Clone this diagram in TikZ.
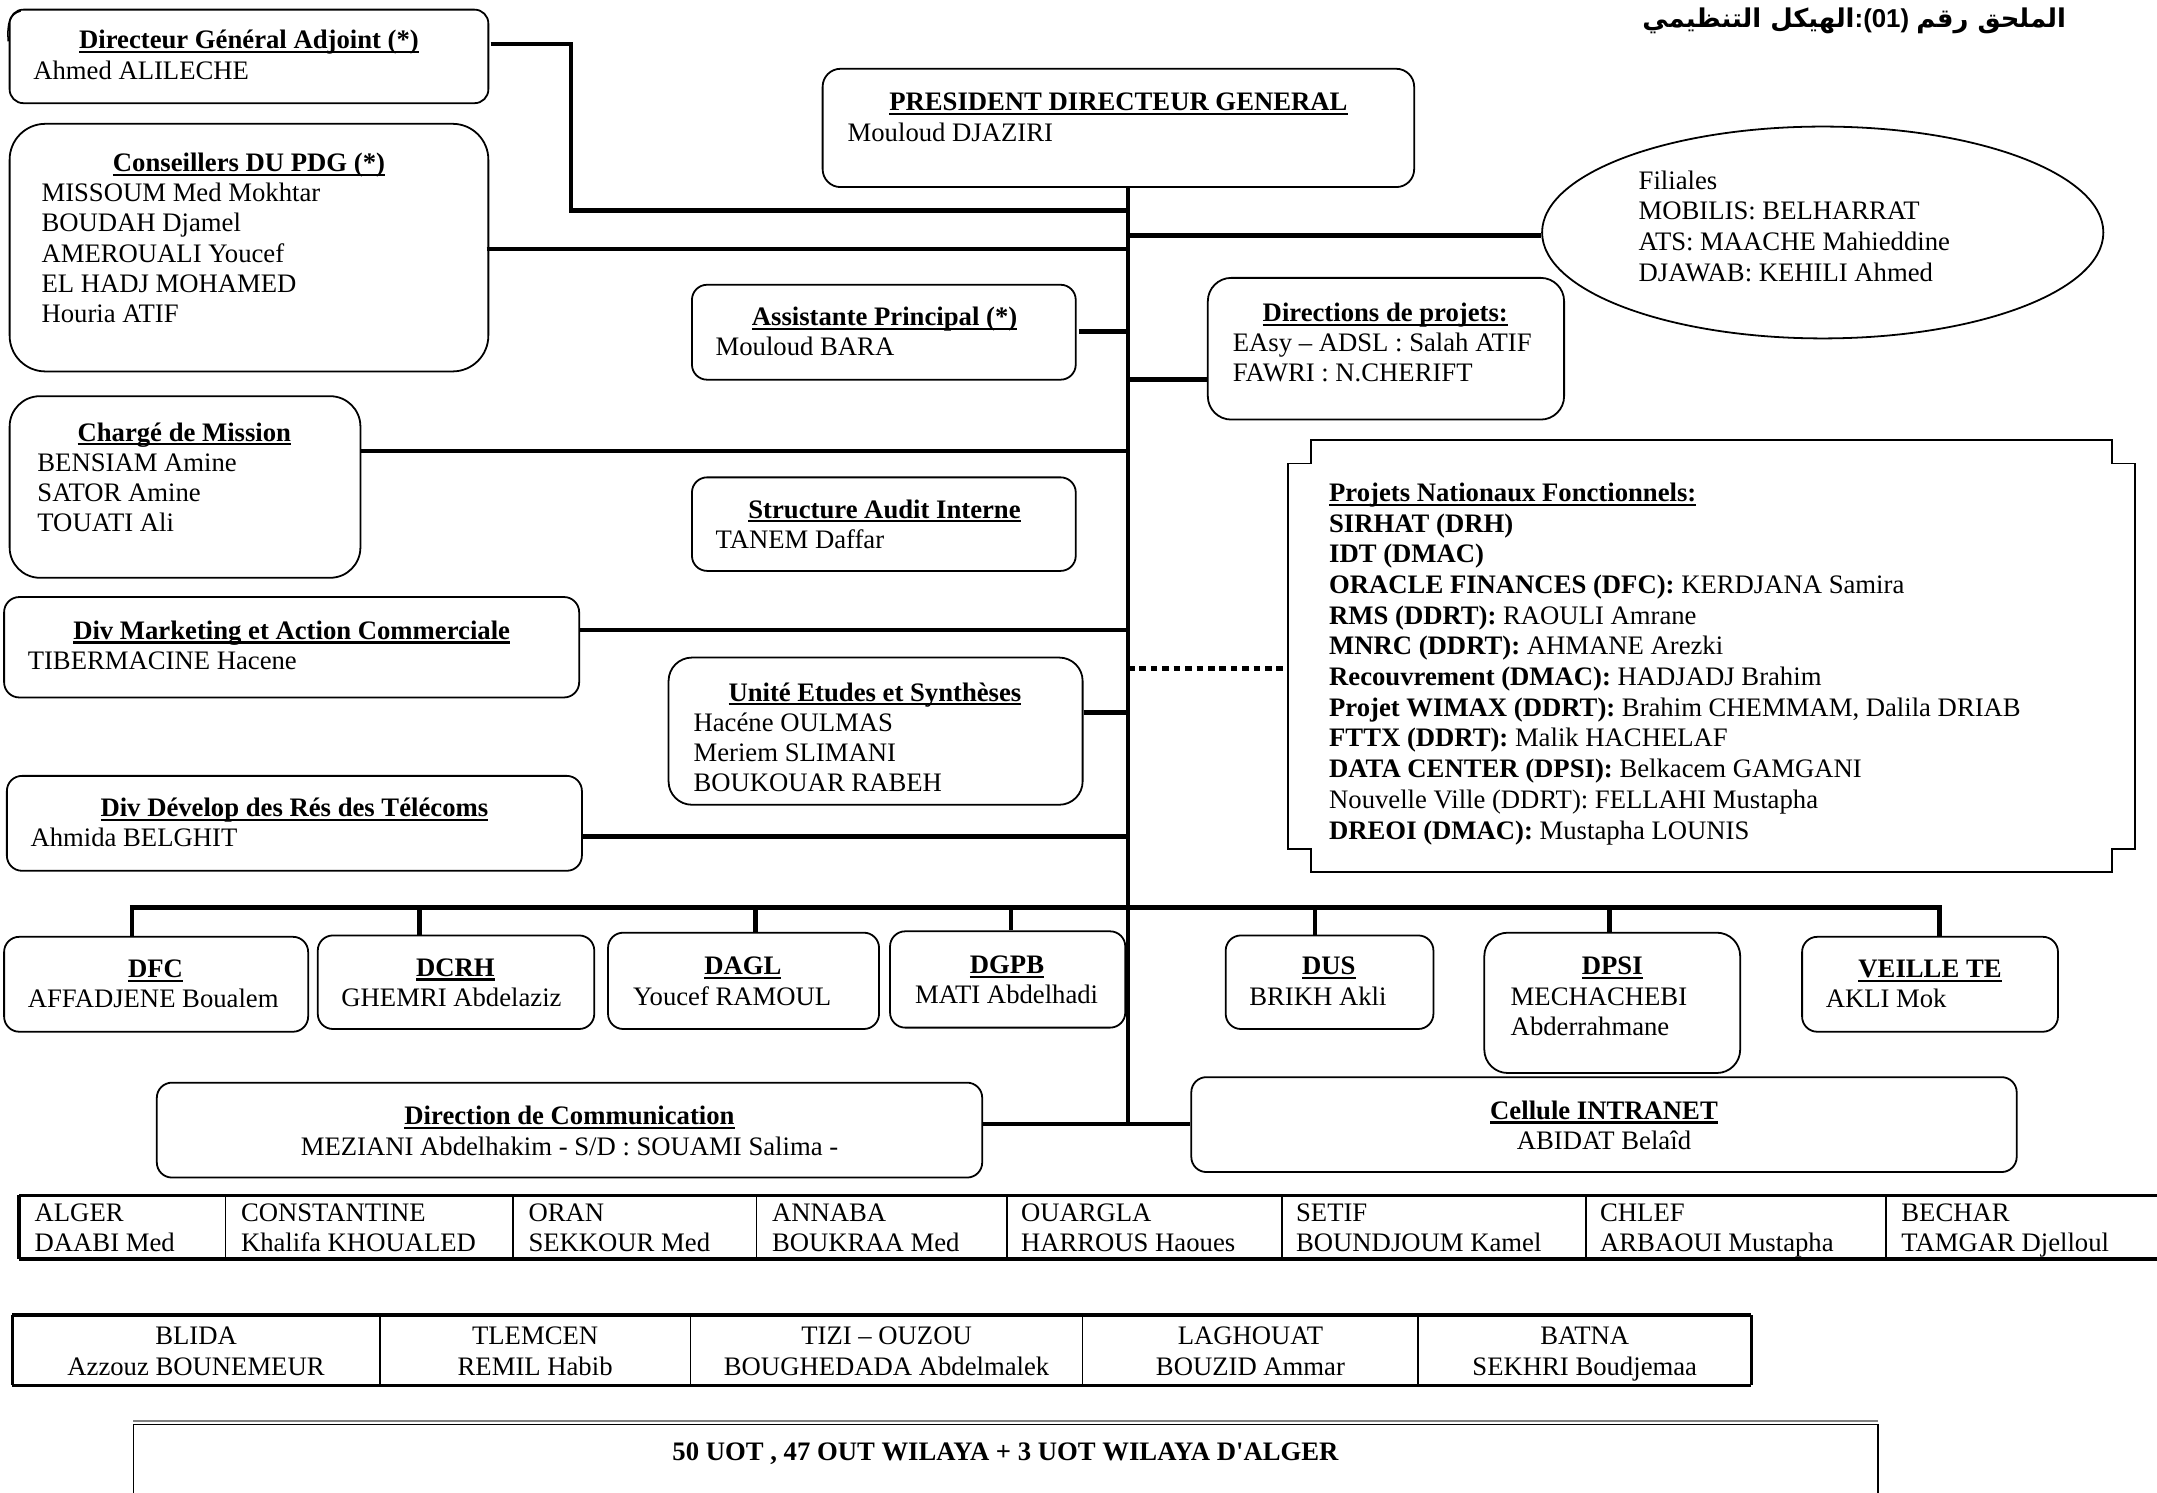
\documentclass[tikz,border=0pt]{standalone}
\usepackage{fontspec}
\setmainfont{Liberation Serif}
\newfontfamily\plainserif{Liberation Serif}
\newfontfamily\arabicfont[Script=Arabic]{DejaVu Sans}
\newfontfamily\titlelatin{Liberation Sans}
\TeXXeTstate=1
\usetikzlibrary{fit,shapes.geometric}

% bold heading with a rule under it
\newcommand\hd[1]{\setbox0\hbox{\bfseries #1}\rlap{\rule[-3.2pt]{\wd0}{1.6pt}}\box0}
\newcommand\bodyfont{\fontsize{19.4}{22}\selectfont}
\newcommand\rows[1]{\begin{tabular}[t]{@{}l@{}}#1\end{tabular}}
\newcommand\crows[1]{\begin{tabular}[t]{@{}c@{}}#1\end{tabular}}
\newcommand\straightquote{{\plainserif\symbol{39}}}

\tikzset{
  orgbox/.style={draw, line width=1.3pt, inner sep=0pt, rounded corners=#1},
  orgbox/.default=11pt,
  txt/.style={font=\bodyfont, inner sep=0pt, anchor=base west, yshift=-1.6pt},
  ctxt/.style={font=\bodyfont, inner sep=0pt, anchor=base, yshift=-1.6pt},
  head/.style={font=\bodyfont, inner sep=0pt, anchor=base, yshift=-1.6pt},
  conn/.style={line width=3.3pt},
  dotconn/.style={line width=3.3pt, dash pattern=on 4.8pt off 3.5pt},
  thinrule/.style={line width=1.2pt},
  thickrule/.style={line width=2.6pt},
}

\begin{document}
\begin{tikzpicture}[x=1pt,y=-1pt]
\useasboundingbox (0,0) rectangle (1568,1085);

% title
\node[anchor=base east, inner sep=0pt, font=\bfseries\fontsize{18.8}{22}\selectfont] (title) at (1502,20)
  {{\arabicfont\beginR الهيكل التنظيمي\endR}{\titlelatin :(01) }{\arabicfont\beginR الملحق رقم\endR}};

% ---- boxes of the upper part ----
\node[orgbox=10pt, fit={(7,7)(355,75)}] (dga) {};
\draw[line width=1.1pt] (6,30) .. controls (5,17) and (7,10) .. (15,8);
\node[head] (dga-h) at (181,34) {\hd{Directeur Général Adjoint (*)}};
\node[txt] (dga-n) at (24,56) {Ahmed ALILECHE};

\node[orgbox=13pt, fit={(598,50)(1028,136)}] (pdg) {};
\node[head] (pdg-h) at (813,79) {\hd{PRESIDENT DIRECTEUR GENERAL}};
\node[txt] (pdg-n) at (616,101) {Mouloud DJAZIRI};

\node[orgbox=26pt, fit={(7,90)(355,270)}] (cons) {};
\node[head] (cons-h) at (181,123) {\hd{Conseillers DU PDG (*)}};
\node[txt] (cons-n) at (30,145) {\rows{MISSOUM Med Mokhtar\\BOUDAH Djamel\\AMEROUALI Youcef\\EL HADJ MOHAMED\\Houria ATIF}};

\node[draw, line width=1.3pt, ellipse, inner sep=0pt, minimum width=408pt, minimum height=154pt] (fil) at (1325,169) {};
\node[txt] (fil-n) at (1191,136) {\fontsize{19.4}{22.3}\selectfont\rows{Filiales\\MOBILIS: BELHARRAT\\ATS: MAACHE Mahieddine\\DJAWAB: KEHILI Ahmed}};

\node[orgbox, fit={(503,207)(782,276)}] (assist) {};
\node[head] (assist-h) at (643,235) {\hd{Assistante Principal (*)}};
\node[txt] (assist-n) at (520,257) {Mouloud BARA};

\node[orgbox=17pt, fit={(878,202)(1137,305)}] (dirp) {};
\node[head] (dirp-h) at (1007,232) {\hd{Directions de projets:}};
\node[txt] (dirp-n) at (896,254) {\rows{EAsy – ADSL : Salah ATIF\\FAWRI : N.CHERIFT}};

\node[orgbox=22pt, fit={(7,288)(262,420)}] (charge) {};
\node[head] (charge-h) at (134,319) {\hd{Chargé de Mission}};
\node[txt] (charge-n) at (27,341) {\rows{BENSIAM Amine\\SATOR Amine\\TOUATI Ali}};

\node[orgbox, fit={(503,347)(782,415)}] (audit) {};
\node[head] (audit-h) at (643,375) {\hd{Structure Audit Interne}};
\node[txt] (audit-n) at (520,397) {TANEM Daffar};

% notched frame of the national projects
\draw[line width=1.3pt] (953,320) -- (1535,320) -- (1535,337) -- (1552,337) -- (1552,617)
  -- (1535,617) -- (1535,634) -- (953,634) -- (953,617) -- (936,617) -- (936,337)
  -- (953,337) -- cycle;
\coordinate (proj-w) at (936,486);
\node[txt] (proj) at (966,363) {\fontsize{19.4}{22.3}\selectfont\rows{\hd{Projets Nationaux Fonctionnels:}\\
  \textbf{SIRHAT (DRH)}\\
  \textbf{IDT (DMAC)}\\
  \textbf{ORACLE FINANCES (DFC):} KERDJANA Samira\\
  \textbf{RMS (DDRT):} RAOULI Amrane\\
  \textbf{MNRC (DDRT):} AHMANE Arezki\\
  \textbf{Recouvrement (DMAC):} HADJADJ Brahim\\
  \textbf{Projet WIMAX (DDRT):} Brahim CHEMMAM, Dalila DRIAB\\
  \textbf{FTTX (DDRT):} Malik HACHELAF\\
  \textbf{DATA CENTER (DPSI):} Belkacem GAMGANI\\
  Nouvelle Ville (DDRT): FELLAHI Mustapha\\
  \textbf{DREOI (DMAC):} Mustapha LOUNIS}};

\node[orgbox, fit={(3,434)(421,507)}] (mkt) {};
\node[head] (mkt-h) at (212,463) {\hd{Div Marketing et Action Commerciale}};
\node[txt] (mkt-n) at (20,485) {TIBERMACINE Hacene};

\node[orgbox=17pt, fit={(486,478)(787,585)}] (unite) {};
\node[head] (unite-h) at (636,508) {\hd{Unité Etudes et Synthèses}};
\node[txt] (unite-n) at (504,530) {\rows{Hacéne OULMAS\\Meriem SLIMANI\\BOUKOUAR RABEH}};

\node[orgbox, fit={(5,564)(423,633)}] (devel) {};
\node[head] (devel-h) at (214,592) {\hd{Div Dévelop des Rés des Télécoms}};
\node[txt] (devel-n) at (22,614) {Ahmida BELGHIT};

% ---- directions under the bus ----
\node[orgbox, fit={(3,681)(224,750)}] (dfc) {};
\node[head] (dfc-h) at (113,709) {\hd{DFC}};
\node[txt] (dfc-n) at (20,731) {AFFADJENE Boualem};

\node[orgbox, fit={(231,680)(432,748)}] (dcrh) {};
\node[head] (dcrh-h) at (331,708) {\hd{DCRH}};
\node[txt] (dcrh-n) at (248,730) {GHEMRI Abdelaziz};

\node[orgbox, fit={(442,678)(639,748)}] (dagl) {};
\node[head] (dagl-h) at (540,707) {\hd{DAGL}};
\node[txt] (dagl-n) at (460,729) {Youcef RAMOUL};

\node[orgbox, fit={(647,677)(818,747)}] (dgpb) {};
\node[head] (dgpb-h) at (732,706) {\hd{DGPB}};
\node[txt] (dgpb-n) at (665,728) {MATI Abdelhadi};

\node[orgbox, fit={(891,680)(1042,748)}] (dus) {};
\node[head] (dus-h) at (966,707) {\hd{DUS}};
\node[txt] (dus-n) at (908,729) {BRIKH Akli};

\node[orgbox=17pt, fit={(1079,678)(1265,780)}] (dpsi) {};
\node[head] (dpsi-h) at (1172,707) {\hd{DPSI}};
\node[txt] (dpsi-n) at (1098,729) {\rows{MECHACHEBI\\Abderrahmane}};

\node[orgbox, fit={(1310,681)(1496,750)}] (veille) {};
\node[head] (veille-h) at (1403,709) {\hd{VEILLE TE}};
\node[txt] (veille-n) at (1327,731) {AKLI Mok};

\node[orgbox, fit={(114,787)(714,856)}] (dircom) {};
\node[head] (dircom-h) at (414,816) {\hd{Direction de Communication}};
\node[ctxt] (dircom-n) at (414,838) {MEZIANI Abdelhakim - S/D : SOUAMI Salima -};

\node[orgbox, fit={(866,783)(1466,852)}] (intra) {};
\node[head] (intra-h) at (1166,812) {\hd{Cellule INTRANET}};
\node[ctxt] (intra-n) at (1166,834) {ABIDAT Belaîd};

% ---- trunk and connectors ----
\coordinate (j-bot) at (820,817);
\coordinate (j-dga) at (820,153);
\coordinate (bend-dga) at (415,32);
\coordinate (j-fil) at (820,171);
\coordinate (j-cons) at (820,181);
\coordinate (j-assist) at (820,241);
\coordinate (j-dirp) at (820,276);
\coordinate (j-charge) at (820,328);
\coordinate (j-mkt) at (820,458);
\coordinate (j-proj) at (820,486);
\coordinate (j-unite) at (820,518);
\coordinate (j-devel) at (820,608);

\draw[conn] (pdg.south -| j-bot) -- (j-bot);
\draw[conn] ([xshift=1pt]dga.east |- bend-dga) -- (bend-dga) |- (j-dga);
\draw[conn] (j-fil) -- (j-fil -| fil.west);
\draw[conn] ([xshift=-2pt]cons.east |- j-cons) -- (j-cons);
\draw[conn] ([xshift=2pt]assist.east |- j-assist) -- (j-assist);
\draw[conn] (j-dirp) -- (dirp.west |- j-dirp);
\draw[conn] (charge.east |- j-charge) -- (j-charge);
\draw[conn] (mkt.east |- j-mkt) -- (j-mkt);
\draw[dotconn] (j-proj) -- (proj-w);
\draw[conn] (unite.east |- j-unite) -- (j-unite);
\draw[conn] (devel.east |- j-devel) -- (j-devel);
\draw[conn] (dircom.east |- j-bot) -- (intra.west |- j-bot);

% horizontal bus to the directions
\coordinate (d-dfc) at (96,660);
\coordinate (d-dcrh) at (305,660);
\coordinate (d-dagl) at (549,660);
\coordinate (d-dgpb) at (735,660);
\coordinate (d-dus) at (956,660);
\coordinate (d-dpsi) at (1170,660);
\coordinate (d-veille) at (1410,660);
\draw[conn, line width=3.7pt] ([xshift=-1.6pt]d-dfc) -- ([xshift=1.6pt]d-veille);
\draw[conn] (d-dfc) -- (d-dfc |- dfc.north);
\draw[conn] (d-dcrh) -- (d-dcrh |- dcrh.north);
\draw[conn] (d-dagl) -- (d-dagl |- dagl.north);
\draw[conn] (d-dgpb) -- (d-dgpb |- dgpb.north);
\draw[conn] (d-dus) -- (d-dus |- dus.north);
\draw[conn] (d-dpsi) -- (d-dpsi |- dpsi.north);
\draw[conn] (d-veille) -- (d-veille |- veille.north);

% ---- regional units, first table ----
\draw[thickrule] (14,869) -- (1568,869);
\draw[thickrule] (14,915) -- (1568,915);
\draw[thickrule] (14,869) -- (14,915);
\foreach \cx in {164,373,550,732,932,1153,1371}
  \draw[thinrule] (\cx,869) -- (\cx,915);
\node[txt] (u-alger) at (25,886) {\rows{ALGER\\DAABI Med}};
\node[txt] (u-const) at (175,886) {\rows{CONSTANTINE\\Khalifa KHOUALED}};
\node[txt] (u-oran) at (384,886) {\rows{ORAN\\SEKKOUR Med}};
\node[txt] (u-annaba) at (561,886) {\rows{ANNABA\\BOUKRAA Med}};
\node[txt] (u-ouargla) at (742,886) {\rows{OUARGLA\\HARROUS Haoues}};
\node[txt] (u-setif) at (942,886) {\rows{SETIF\\BOUNDJOUM Kamel}};
\node[txt] (u-chlef) at (1163,886) {\rows{CHLEF\\ARBAOUI Mustapha}};
\node[txt] (u-bechar) at (1382,886) {\rows{BECHAR\\TAMGAR Djelloul}};

% ---- second table ----
\draw[thickrule] (9,956) -- (1273,956);
\draw[thickrule] (9,1007) -- (1273,1007);
\draw[line width=2pt] (9,956) -- (9,1007);
\draw[line width=2pt] (1273,956) -- (1273,1007);
\foreach \cx in {276,502,787,1031}
  \draw[thinrule] (\cx,956) -- (\cx,1007);
\node[ctxt] (u-blida) at (142.5,976) {\crows{BLIDA\\Azzouz BOUNEMEUR}};
\node[ctxt] (u-tlemcen) at (389,976) {\crows{TLEMCEN\\REMIL Habib}};
\node[ctxt] (u-tizi) at (644.5,976) {\crows{TIZI – OUZOU\\BOUGHEDADA Abdelmalek}};
\node[ctxt] (u-laghouat) at (909,976) {\crows{LAGHOUAT\\BOUZID Ammar}};
\node[ctxt] (u-batna) at (1152,976) {\crows{BATNA\\SEKHRI Boudjemaa}};

% ---- summary frame ----
\draw[line width=1.3pt, gray] (97,1033) -- (1365,1033);
\draw[line width=1.3pt] (97,1085) -- (97,1035.5) -- (1365,1035.5) -- (1365,1085);
\node[ctxt] (uot) at (731,1060) {\textbf{50 UOT , 47 OUT WILAYA + 3 UOT WILAYA D\straightquote ALGER}};
\end{tikzpicture}
\end{document}
